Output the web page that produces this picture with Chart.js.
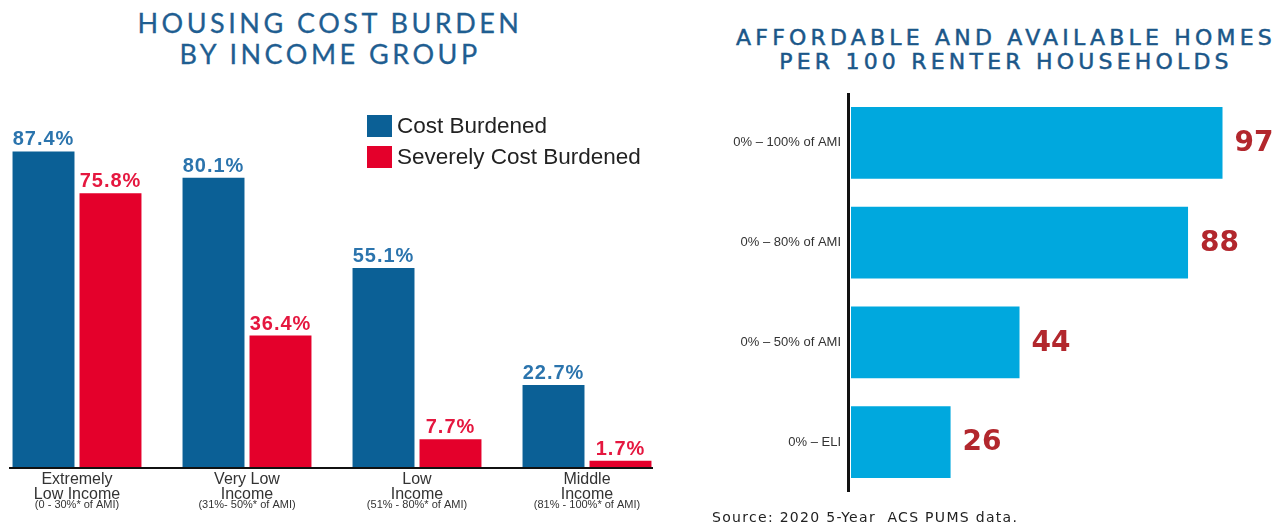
<!DOCTYPE html>
<html>
<head>
<meta charset="utf-8">
<script src="https://cdn.jsdelivr.net/npm/chart.js@4.4.1/dist/chart.umd.min.js"></script>
<style>
    html, body { margin: 0; padding: 0; background: #fff; }
    body { width: 1286px; height: 525px; position: relative; overflow: hidden; font-family: "Liberation Sans", Arial, sans-serif; }
    .line { position: absolute; text-align: center; white-space: nowrap; }
    .left-title { left: 0; width: 660px; font-family: Lato, sans-serif; font-size: 27px; line-height: 31px; letter-spacing: 3.5px; color: #1f5e91; -webkit-text-stroke: 0.3px #1f5e91; }
    .right-title { left: 726px; width: 560px; font-family: "DejaVu Sans", sans-serif; font-size: 22px; line-height: 24px; letter-spacing: 4.2px; color: #1b5789; -webkit-text-stroke: 0.5px #1b5789; }
    .legend-row { position: absolute; left: 367px; height: 22px; display: flex; align-items: center; font-size: 22.5px; color: #222; white-space: nowrap; }
    .legend-row span.box { width: 25px; height: 22px; margin-right: 5px; }
    .baseline { position: absolute; left: 9px; top: 467px; width: 644px; height: 2px; background: #111; }
    .source { position: absolute; left: 712px; top: 509px; font-family: "DejaVu Sans", sans-serif; font-size: 14px; letter-spacing: 1.3px; color: #222; white-space: pre; }
    #burdenChart { position: absolute; left: -8px; top: 0; }
    #homesChart { position: absolute; left: 700px; top: 0; }
</style>
</head>
<body>
<div class="line left-title" style="top:7px">HOUSING COST BURDEN</div>
<div class="line left-title" style="top:38px">BY INCOME GROUP</div>

<div class="line right-title" style="top:26px">AFFORDABLE AND AVAILABLE HOMES</div>
<div class="line right-title" style="top:50px">PER 100 RENTER HOUSEHOLDS</div>

<canvas id="burdenChart" width="680" height="525"></canvas>
<canvas id="homesChart" width="586" height="525"></canvas>
<div class="baseline"></div>

<div class="legend-row" style="top:115px"><span class="box" style="background:#0b6096"></span>Cost Burdened</div>
<div class="legend-row" style="top:146px"><span class="box" style="background:#e4002b"></span>Severely Cost Burdened</div>

<div class="source">Source: 2020 5-Year  ACS PUMS data.</div>

<script>
// Left chart: housing cost burden
const incomeGroups = ['Extremely Low Income', 'Very Low Income', 'Low Income', 'Middle Income'];
const groupLabelLines = [
    ['Extremely', 'Low Income'],
    ['Very Low', 'Income'],
    ['Low', 'Income'],
    ['Middle', 'Income']
];
const groupRanges = ['(0 - 30%* of AMI)', '(31%- 50%* of AMI)', '(51% - 80%* of AMI)', '(81% - 100%* of AMI)'];
const costBurdened = [87.4, 80.1, 55.1, 22.7];
const severelyBurdened = [75.8, 36.4, 7.7, 1.7];

// Right chart: affordable and available homes
const amiBands = ['0% \u2013 100% of AMI', '0% \u2013 80% of AMI', '0% \u2013 50% of AMI', '0% \u2013 ELI'];
const homesPer100 = [97, 88, 44, 26];

const BLUE = '#0b6096';
const RED = '#e4002b';

// value labels above the bars and the category names under them
const burdenLabels = {
    id: 'burdenLabels',
    afterDatasetsDraw(chart) {
        const ctx = chart.ctx;
        const labelColors = ['#2b74ad', '#e5173f'];
        ctx.save();
        ctx.textAlign = 'center';
        ctx.textBaseline = 'alphabetic';
        ctx.font = 'bold 20px "Liberation Sans", Arial, sans-serif';
        ctx.letterSpacing = '1px';
        chart.data.datasets.forEach((ds, i) => {
            ctx.fillStyle = labelColors[i];
            chart.getDatasetMeta(i).data.forEach((bar, j) => {
                ctx.fillText(ds.data[j].toFixed(1) + '%', bar.x, bar.y - 6);
            });
        });
        ctx.restore();
    },
    afterDraw(chart) {
        const ctx = chart.ctx;
        const xScale = chart.scales.x;
        const bottom = chart.chartArea.bottom;
        ctx.save();
        ctx.textAlign = 'center';
        ctx.textBaseline = 'alphabetic';
        ctx.fillStyle = '#333';
        incomeGroups.forEach((g, i) => {
            const x = xScale.getPixelForValue(i);
            ctx.font = '16px "Liberation Sans", Arial, sans-serif';
            ctx.fillText(groupLabelLines[i][0], x, bottom + 17);
            ctx.fillText(groupLabelLines[i][1], x, bottom + 32);
            ctx.font = '11px "Liberation Sans", Arial, sans-serif';
            ctx.fillText(groupRanges[i], x, bottom + 41);
        });
        ctx.restore();
    }
};

new Chart(document.getElementById('burdenChart'), {
    type: 'bar',
    data: {
        labels: incomeGroups,
        datasets: [
            { label: 'Cost Burdened', data: costBurdened, backgroundColor: BLUE },
            { label: 'Severely Cost Burdened', data: severelyBurdened, backgroundColor: RED }
        ]
    },
    options: {
        responsive: false,
        animation: false,
        categoryPercentage: 0.788,
        barPercentage: 0.925,
        layout: { padding: { top: 106, bottom: 58, left: 0, right: 0 } },
        plugins: { legend: { display: false }, tooltip: { enabled: false } },
        scales: {
            x: { display: false },
            y: { display: false, min: 0, max: 100 }
        }
    },
    plugins: [burdenLabels]
});

// axis line, band names and values for the horizontal bars
const homesLabels = {
    id: 'homesLabels',
    afterDraw(chart) {
        const ctx = chart.ctx;
        const area = chart.chartArea;
        const yScale = chart.scales.y;
        ctx.save();
        ctx.fillStyle = '#111';
        ctx.fillRect(area.left - 4, area.top, 3, area.bottom - area.top);

        ctx.textAlign = 'right';
        ctx.textBaseline = 'middle';
        ctx.fillStyle = '#333';
        ctx.font = '13px "Liberation Sans", Arial, sans-serif';
        amiBands.forEach((b, i) => {
            ctx.fillText(b, area.left - 10, yScale.getPixelForValue(i));
        });

        ctx.textAlign = 'left';
        ctx.fillStyle = '#b2272d';
        ctx.font = 'bold 28px "DejaVu Sans", sans-serif';
        chart.getDatasetMeta(0).data.forEach((bar, i) => {
            ctx.fillText(String(homesPer100[i]), bar.x + 12, bar.y + 1);
        });
        ctx.restore();
    }
};

new Chart(document.getElementById('homesChart'), {
    type: 'bar',
    data: {
        labels: amiBands,
        datasets: [{ label: 'Homes per 100', data: homesPer100, backgroundColor: '#00a8de' }]
    },
    options: {
        indexAxis: 'y',
        responsive: false,
        animation: false,
        categoryPercentage: 1,
        barPercentage: 0.717,
        layout: { padding: { top: 93, bottom: 33, left: 151, right: 52 } },
        plugins: { legend: { display: false }, tooltip: { enabled: false } },
        scales: {
            x: { display: false, min: 0, max: 100 },
            y: { display: false }
        }
    },
    plugins: [homesLabels]
});
</script>
</body>
</html>
